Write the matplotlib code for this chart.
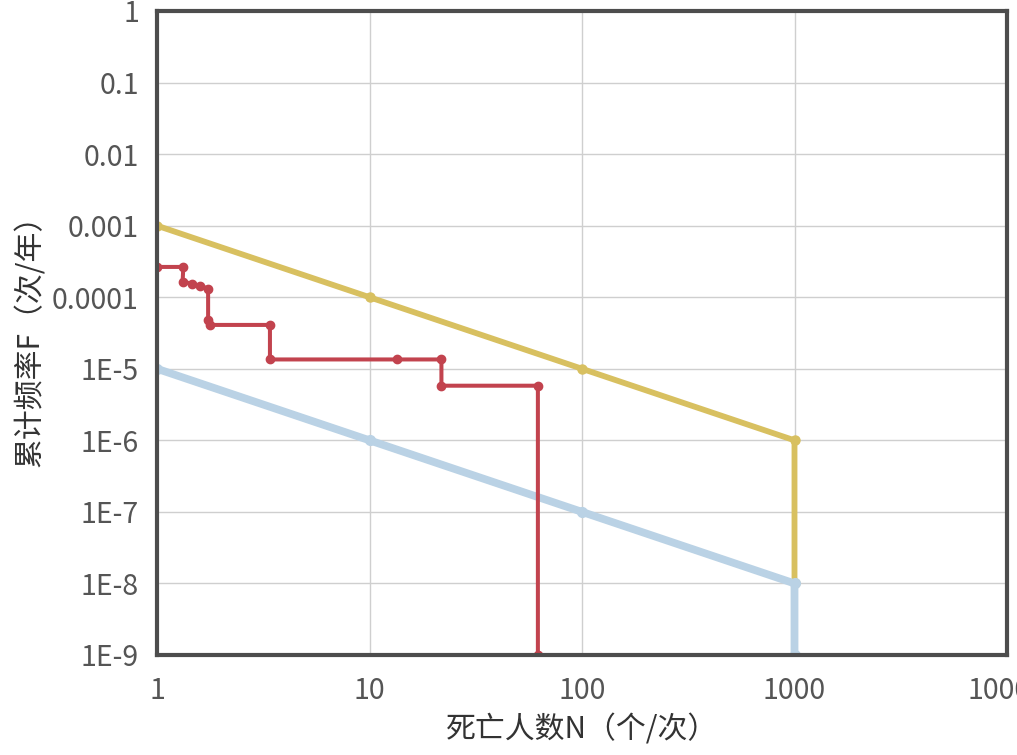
import matplotlib
matplotlib.use("Agg")
import matplotlib.pyplot as plt
from matplotlib.ticker import FixedLocator, FixedFormatter, NullLocator

plt.rcParams['font.family'] = ['Noto Sans CJK SC', 'DejaVu Sans']

# Data
upper_N = [1, 10, 100, 1000, 1000]
upper_F = [1e-3, 1e-4, 1e-5, 1e-6, 1e-8]
lower_N = [1, 10, 100, 1000, 1000]
lower_F = [1e-5, 1e-6, 1e-7, 1e-8, 1e-9]
risk_N = [1, 1.33, 1.32, 1.46, 1.59, 1.74, 1.74, 1.78, 3.4, 3.4, 13.5, 21.8, 21.8, 62, 62]
risk_F = [2.65e-4, 2.65e-4, 1.65e-4, 1.55e-4, 1.45e-4, 1.32e-4, 4.8e-5, 4.1e-5, 4.1e-5,
          1.35e-5, 1.35e-5, 1.35e-5, 5.8e-6, 5.8e-6, 1e-9]

x_ticks = [1, 10, 100, 1000, 10000]
x_labels = ["1", "10", "100", "1000", "10000"]
y_ticks = [1e-9, 1e-8, 1e-7, 1e-6, 1e-5, 1e-4, 1e-3, 1e-2, 1e-1, 1]
y_labels = ["1E-9", "1E-8", "1E-7", "1E-6", "1E-5", "0.0001", "0.001", "0.01", "0.1", "1"]

fig = plt.figure(figsize=(10.17, 7.55), dpi=100)
ax = fig.add_axes([157/1017, 100/755, (1007-157)/1017, (655-11)/755])

ax.set_xscale('log')
ax.set_yscale('log')
ax.set_xlim(1, 10000)
ax.set_ylim(1e-9, 1)

ax.plot(upper_N, upper_F, color='#d8c060', lw=4.2, marker='o', ms=6.5, zorder=3, solid_capstyle='butt')
ax.plot(lower_N, lower_F, color='#bad2e5', lw=5.6, marker='o', ms=7, zorder=4, solid_capstyle='butt')
ax.plot(risk_N, risk_F, color='#c2434e', lw=2.9, marker='o', ms=6, zorder=5)

ax.xaxis.set_major_locator(FixedLocator(x_ticks))
ax.xaxis.set_major_formatter(FixedFormatter(x_labels))
ax.xaxis.set_minor_locator(NullLocator())
ax.yaxis.set_major_locator(FixedLocator(y_ticks))
ax.yaxis.set_major_formatter(FixedFormatter(y_labels))
ax.yaxis.set_minor_locator(NullLocator())

ax.grid(True, color='#cfcfcf', lw=1.0, zorder=0)
ax.set_axisbelow(True)
ax.tick_params(length=0, labelsize=20.5, labelcolor='#555555')
ax.tick_params(axis='y', pad=13)
ax.tick_params(axis='x', pad=15)

for s in ax.spines.values():
    s.set_color('#4d4d4d')
    s.set_linewidth(3)
    s.set_zorder(6)

ax.set_xlabel("死亡人数N（个/次）", fontsize=21.5, color='#333333', labelpad=6)
ax.set_ylabel("累计频率F（次/年）", fontsize=21.5, color='#333333', labelpad=4)

fig.savefig("out.png", dpi=100)
